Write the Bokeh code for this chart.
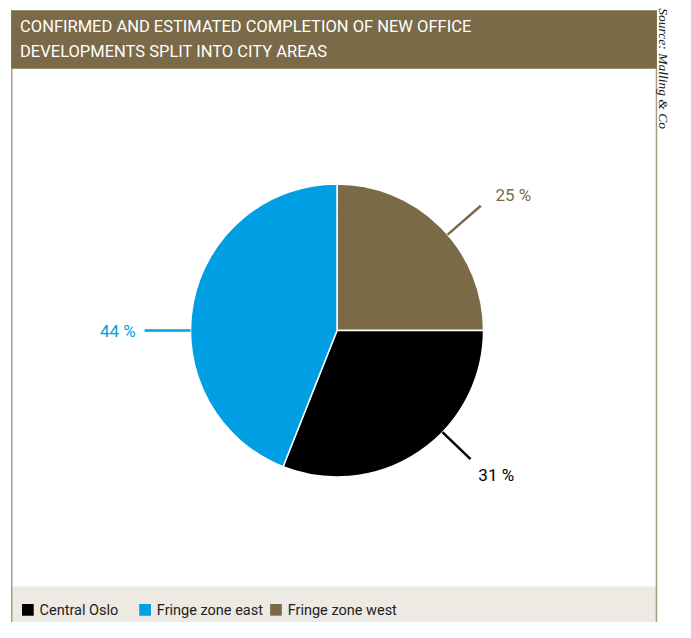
import math
from bokeh.plotting import figure
from bokeh.models import Range1d
from bokeh.core.properties import value
from bokeh.embed import file_html
from bokeh.resources import INLINE

# ---------------- data ----------------
title_lines = ["CONFIRMED AND ESTIMATED COMPLETION OF NEW OFFICE",
               "DEVELOPMENTS SPLIT INTO CITY AREAS"]
source_text = "Source: Malling & Co"
slice_names = ["Fringe zone west", "Central Oslo", "Fringe zone east"]
slice_values = [25, 31, 44]
slice_labels = ["25 %", "31 %", "44 %"]
legend_names = ["Central Oslo", "Fringe zone east", "Fringe zone west"]

# ---------------- style ----------------
colors = {"Fringe zone west": "#7a6a48", "Central Oslo": "#000000", "Fringe zone east": "#009fe3"}
BROWN = "#7a6a48"
BAND = "#ede9e3"
BORDER = "#a69d88"
FONT = value("Roboto")
W, H = 675, 622

def Y(py):
    return 638 - py

p = figure(width=W, height=H, output_backend="svg", toolbar_location=None,
           x_range=Range1d(0, 691), y_range=Range1d(0, 638),
           min_border=0, min_border_left=0, min_border_right=0,
           min_border_top=0, min_border_bottom=0)
p.axis.visible = False
p.grid.visible = False
p.outline_line_color = None
p.background_fill_color = "white"
p.border_fill_color = "white"

# frame
p.quad(left=[11], right=[672], bottom=[Y(638)], top=[Y(601)], fill_color=BAND, line_color=None)
p.segment(x0=[11.5, 671.5], y0=[Y(10), Y(70)], x1=[11.5, 671.5], y1=[Y(638), Y(638)],
          line_color=BORDER, line_width=1.5)
p.quad(left=[11], right=[672], bottom=[Y(70)], top=[Y(10)], fill_color=BROWN, line_color=None)
p.text(x=[20, 20], y=[Y(27), Y(52)], text=title_lines, text_color="white",
       text_font=FONT, text_font_size="16.5px", text_baseline="middle", text_align="left")

# source
p.text(x=[679], y=[Y(8)], text=[source_text], angle=-math.pi / 2,
       text_font=value("Liberation Serif"), text_font_style="italic",
       text_font_size="13.5px", text_color="#111111", text_baseline="alphabetic", text_align="left")

# pie
cx, cy, R = 344.5, Y(338.5), 150
total = sum(slice_values)
starts, ends, cum = [], [], 0.0
for v in slice_values:
    starts.append(math.radians(90 - 360 * cum / total))
    cum += v
    ends.append(math.radians(90 - 360 * cum / total))
p.wedge(x=[cx] * 3, y=[cy] * 3, radius=R, start_angle=starts, end_angle=ends,
        direction="clock",
        fill_color=[colors[n] for n in slice_names], line_color="white", line_width=1.5)

# leader lines and labels (layout)
leader_angles = [49, 134, 270]      # degrees clockwise from top
leader_outer = [195, 190, 197]
label_dx = [15, 8, -9]
label_dy = [-11, 16, 0]
label_align = ["left", "left", "right"]
for i, n in enumerate(slice_names):
    a = math.radians(leader_angles[i])
    x0 = cx + R * math.sin(a)
    y0 = cy + R * math.cos(a)
    x1 = cx + leader_outer[i] * math.sin(a)
    y1 = cy + leader_outer[i] * math.cos(a)
    col = colors[n]
    p.segment(x0=[x0], y0=[y0], x1=[x1], y1=[y1], line_color=col, line_width=2.5)
    p.text(x=[x1 + label_dx[i]], y=[y1 - label_dy[i]], text=[slice_labels[i]], text_color=col,
           text_font=FONT, text_font_size="17px", text_baseline="middle",
           text_align=label_align[i])

# legend
sq_x = [22, 142, 276]
for i, n in enumerate(legend_names):
    p.quad(left=[sq_x[i]], right=[sq_x[i] + 12], bottom=[Y(631)], top=[Y(619)],
           fill_color=colors[n], line_color=None)
    p.text(x=[sq_x[i] + 18], y=[Y(626)], text=[n], text_color="#222222",
           text_font=FONT, text_font_size="14.5px", text_baseline="middle", text_align="left")

open("out.html", "w").write(file_html(p, INLINE))
